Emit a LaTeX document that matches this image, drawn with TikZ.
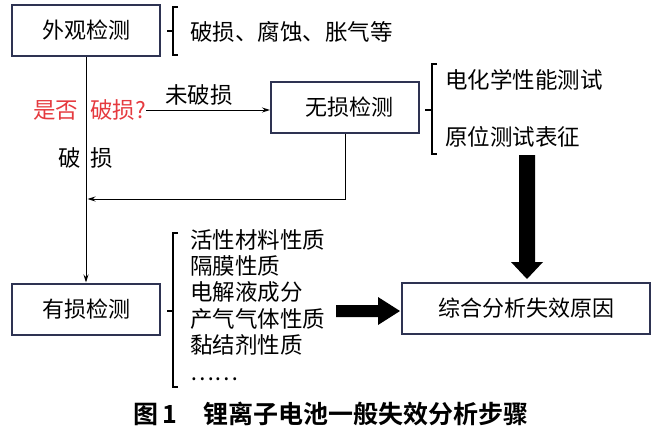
\documentclass[tikz,border=0pt]{standalone}
\usepackage{fontspec}
\setmainfont{Noto Sans CJK SC}
\newfontfamily\cjkbold{Noto Sans CJK SC Bold}
\usetikzlibrary{arrows.meta,calc}
\definecolor{boxline}{HTML}{2E3352}
\definecolor{qred}{HTML}{E53A3F}
\begin{document}
\begin{tikzpicture}[x=1pt,y=-1pt,
  box/.style={draw=boxline,line width=2pt,minimum width=148pt,minimum height=51pt,inner sep=0pt,font=\fontsize{22}{24}\selectfont},
  txt/.style={inner sep=0pt,font=\fontsize{22.5}{24}\selectfont,anchor=west},
  conn/.style={line width=0.9pt,-{Stealth[length=8pt,width=5pt]}},
  brace/.style={line width=1.8pt},
  fat/.style={draw=none,fill=black}]
\useasboundingbox (0,0) rectangle (660,436);
% boxes
\node[box] (wg) at (86,30.5) {外观检测};
\node[box] (ws) at (345,107) {\hspace*{8pt}无损检测};
\node[box] (ys) at (86,309) {有损检测};
\node[box,minimum width=248pt] (zh) at (526,308.5) {综合分析失效原因};
% brace 1
\draw[brace] (178,7) -- (173,7) -- (173,55) -- (178,55);
\draw[brace] (173,31) -- (167,31);
\node[txt] (t1) at (190,32) {破损、腐蚀、胀气等};
% brace 2
\draw[brace] (437,64) -- (432,64) -- (432,154) -- (437,154);
\draw[brace] (432,110) -- (425,110);
\node[txt] (t2) at (445,80) {电化学性能测试};
\node[txt] (t3) at (445,137) {原位测试表征};
% brace 3
\draw[brace] (178,233) -- (173,233) -- (173,387) -- (178,387);
\draw[brace] (173,311) -- (167,311);
\node[txt,anchor=north west,align=left,font=\fontsize{22.5}{26.4}\selectfont] (t4) at (190,229) {活性材料性质\\隔膜性质\\电解液成分\\产气气体性质\\黏结剂性质\\……};
% question
\node[txt,text=qred] (q1) at (33,110) {是否};
\node[txt,text=qred] (q2) at (90,110) {破损?};
\node[txt] (wp) at (165,95) {未破损};
\node[txt] (p1) at (58,158) {破};
\node[txt] (p2) at (90,158) {损};
% connectors
\draw[conn] (wg.south) -- (ys.north);
\draw[conn] (q2.east) -- (ws.west |- q2.east);
\coordinate (c1) at (345,199);
\coordinate (c2) at (87.5,199);
\draw[conn] (ws.south) -- (c1) -- (c2);
% fat arrows
\fill[fat] (336,305) -- (378,305) -- (378,297) -- (400,311) -- (378,325) -- (378,317) -- (336,317) -- cycle;
\fill[fat] (519,155) -- (535,155) -- (535,262) -- (543,262) -- (527,279) -- (511,262) -- (519,262) -- cycle;
% caption
\node[inner sep=0pt,font=\fontsize{25}{28}\selectfont\cjkbold,anchor=west] (cap) at (133,414) {图\,1\hspace{26pt}锂离子电池一般失效分析步骤};
\end{tikzpicture}
\end{document}
